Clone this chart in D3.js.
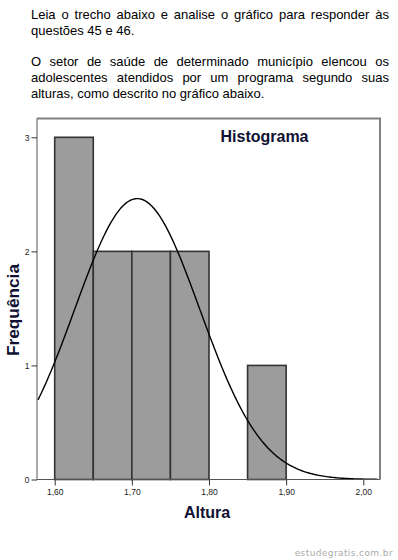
<!DOCTYPE html>
<html>
<head>
<meta charset="utf-8">
<script src="https://cdn.jsdelivr.net/npm/d3@7"></script>
<style>
  html, body { margin: 0; padding: 0; background: #fff; }
  #wrap { position: relative; width: 398px; height: 560px; overflow: hidden; }
  #intro { position: absolute; left: 31px; top: 7px; width: 358px;
           font-family: "Liberation Sans", Arial, sans-serif; font-size: 13px;
           line-height: 15.7px; color: #000; text-align: justify; }
  #intro p { margin: 0 0 15.9px 0; }
  svg { position: absolute; left: 0; top: 0; }
</style>
</head>
<body>
<div id="wrap">
  <div id="intro">
    <p>Leia o trecho abaixo e analise o gráfico para responder às questões 45 e 46.</p>
    <p>O setor de saúde de determinado município elencou os adolescentes atendidos por um programa segundo suas alturas, como descrito no gráfico abaixo.</p>
  </div>
</div>
<script>
// ---- data ----
const binStarts = [1.60, 1.65, 1.70, 1.75, 1.80, 1.85];
const binWidth = 0.05;
const frequencies = [3, 2, 2, 2, 0, 1];
const xTicks = [1.60, 1.70, 1.80, 1.90, 2.00];
const xTickLabels = ["1,60", "1,70", "1,80", "1,90", "2,00"];
const yTicks = [0, 1, 2, 3];
const fitMean = 1.707;   // normal curve
const fitStdDev = 0.081;
const fitN = 10;
const chartTitle = "Histograma";
const xTitle = "Altura";
const yTitle = "Frequência";
const watermark = "estudegratis.com.br";

// ---- layout ----
const W = 398, H = 560;
const frame = { left: 37, right: 380, top: 118.5, bottom: 479.5 };

const x = d3.scaleLinear().domain([1.60, 2.00]).range([54.7, 363.3]);
const y = d3.scaleLinear().domain([0, 3]).range([frame.bottom, 137.3]);

const svg = d3.select("#wrap").append("svg")
  .attr("width", W).attr("height", H);

// bars
svg.append("g").selectAll("rect")
  .data(binStarts.map((s, i) => ({ s, f: frequencies[i] })).filter(d => d.f > 0))
  .join("rect")
  .attr("x", d => x(d.s))
  .attr("y", d => y(d.f))
  .attr("width", d => x(d.s + binWidth) - x(d.s))
  .attr("height", d => y(0) - y(d.f))
  .attr("fill", "#9c9c9c")
  .attr("stroke", "#333")
  .attr("stroke-width", 1.6);

// frame (top & right gray)
svg.append("path")
  .attr("d", `M${frame.left},${frame.top}H${frame.right}V${frame.bottom}`)
  .attr("fill", "none").attr("stroke", "#808080").attr("stroke-width", 2);

// normal curve
const curveXs = d3.range(x.invert(frame.left + 1), x.invert(frame.right - 1), 0.002);
const pdf = v => fitN * binWidth / (fitStdDev * Math.sqrt(2 * Math.PI)) *
  Math.exp(-0.5 * Math.pow((v - fitMean) / fitStdDev, 2));
svg.append("path")
  .datum(curveXs)
  .attr("d", d3.line().x(d => x(d)).y(d => y(pdf(d))))
  .attr("fill", "none").attr("stroke", "#000").attr("stroke-width", 1.4);

// axes
const yAxis = d3.axisLeft(y).tickValues(yTicks).tickFormat(d3.format("d"))
  .tickSize(5.5).tickPadding(2);
const gy = svg.append("g").attr("transform", `translate(${frame.left},0)`).call(yAxis);
gy.select(".domain").attr("d", `M0,${frame.top}V${frame.bottom}`).attr("stroke", "#555");

const xAxis = d3.axisBottom(x).tickValues(xTicks).tickFormat((d, i) => xTickLabels[i])
  .tickSize(6).tickPadding(3);
const gx = svg.append("g").attr("transform", `translate(0,${frame.bottom})`).call(xAxis);
gx.select(".domain").attr("d", `M${frame.left},0H${frame.right}`).attr("stroke", "#555");

[gx, gy].forEach(g => {
  g.selectAll(".tick line").attr("stroke", "#333");
  g.selectAll(".tick text").attr("font-family", "Liberation Sans, Arial, sans-serif")
    .attr("font-size", 8.5).attr("fill", "#222");
});

// titles
svg.append("text").attr("x", 264.5).attr("y", 141.5).attr("text-anchor", "middle")
  .attr("font-family", "Liberation Sans, Arial, sans-serif").attr("font-weight", "bold")
  .attr("font-size", 16).attr("fill", "#111133").text(chartTitle);

svg.append("text").attr("x", 207).attr("y", 517.5).attr("text-anchor", "middle")
  .attr("font-family", "Liberation Sans, Arial, sans-serif").attr("font-weight", "bold")
  .attr("font-size", 16).attr("fill", "#111133").text(xTitle);

svg.append("text").attr("transform", "translate(18.5,310) rotate(-90)").attr("text-anchor", "middle")
  .attr("font-family", "Liberation Sans, Arial, sans-serif").attr("font-weight", "bold")
  .attr("font-size", 16).attr("textLength", 92).attr("lengthAdjust", "spacingAndGlyphs")
  .attr("fill", "#111133").text(yTitle);

svg.append("text").attr("x", 393).attr("y", 556).attr("text-anchor", "end")
  .attr("font-family", "DejaVu Sans, sans-serif").attr("font-size", 9)
  .attr("letter-spacing", 0.4).attr("fill", "#aaaaaa").text(watermark);
</script>
</body>
</html>
